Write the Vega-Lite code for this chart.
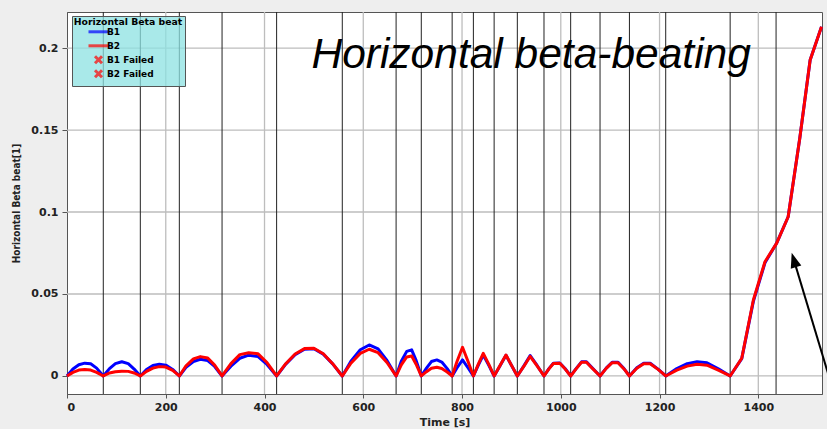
{
  "$schema": "https://vega.github.io/schema/vega-lite/v6.json",
  "width": 755,
  "height": 382,
  "autosize": {"type": "none"},
  "padding": {"left": 67, "top": 12, "right": 5, "bottom": 35},
  "background": "#eeeeee",
  "config": {
    "view": {"fill": "white", "stroke": "#555555", "strokeWidth": 1},
    "font": "DejaVu Sans",
    "axis": {
      "grid": false,
      "domainColor": "#555555",
      "tickColor": "#555555",
      "labelFont": "DejaVu Sans",
      "labelFontWeight": "bold",
      "labelFontSize": 11,
      "labelColor": "#222222",
      "titleFont": "DejaVu Sans",
      "titleFontWeight": "bold",
      "titleFontSize": 11,
      "titleColor": "#222222"
    }
  },
  "datasets": {
    "beat": [
      {"t": 0, "B1": 0, "B2": 0},
      {"t": 12, "B1": 0.0042, "B2": 0.0022},
      {"t": 24, "B1": 0.0068, "B2": 0.0036},
      {"t": 36, "B1": 0.0078, "B2": 0.0040},
      {"t": 48, "B1": 0.0074, "B2": 0.0036},
      {"t": 60, "B1": 0.0048, "B2": 0.0022},
      {"t": 73.5, "B1": 0, "B2": 0},
      {"t": 86, "B1": 0.0045, "B2": 0.0018},
      {"t": 98, "B1": 0.0075, "B2": 0.0026},
      {"t": 111, "B1": 0.0087, "B2": 0.0029},
      {"t": 124, "B1": 0.0075, "B2": 0.0028},
      {"t": 136, "B1": 0.0042, "B2": 0.0018},
      {"t": 148.5, "B1": 0, "B2": 0},
      {"t": 161, "B1": 0.0040, "B2": 0.0028},
      {"t": 174, "B1": 0.0064, "B2": 0.0048},
      {"t": 187, "B1": 0.0071, "B2": 0.0057},
      {"t": 200, "B1": 0.0066, "B2": 0.0054},
      {"t": 214, "B1": 0.0040, "B2": 0.0034},
      {"t": 227.5, "B1": 0, "B2": 0},
      {"t": 241, "B1": 0.0052, "B2": 0.0062},
      {"t": 256, "B1": 0.0088, "B2": 0.0104},
      {"t": 270, "B1": 0.0102, "B2": 0.0118},
      {"t": 285, "B1": 0.0094, "B2": 0.0110},
      {"t": 299, "B1": 0.0058, "B2": 0.0066},
      {"t": 314, "B1": 0, "B2": 0},
      {"t": 332, "B1": 0.0060, "B2": 0.0075},
      {"t": 350, "B1": 0.0108, "B2": 0.0130},
      {"t": 368, "B1": 0.0127, "B2": 0.0142},
      {"t": 387, "B1": 0.0118, "B2": 0.0135},
      {"t": 405, "B1": 0.0070, "B2": 0.0082},
      {"t": 424.5, "B1": 0, "B2": 0},
      {"t": 443, "B1": 0.0072, "B2": 0.0075},
      {"t": 462, "B1": 0.0130, "B2": 0.0134},
      {"t": 481, "B1": 0.0163, "B2": 0.0167},
      {"t": 500, "B1": 0.0166, "B2": 0.0169},
      {"t": 519, "B1": 0.0133, "B2": 0.0135},
      {"t": 538, "B1": 0.0074, "B2": 0.0075},
      {"t": 557.5, "B1": 0, "B2": 0},
      {"t": 575, "B1": 0.0090, "B2": 0.0078},
      {"t": 594, "B1": 0.0160, "B2": 0.0138},
      {"t": 612, "B1": 0.0189, "B2": 0.0163},
      {"t": 630, "B1": 0.0165, "B2": 0.0142},
      {"t": 648, "B1": 0.0095, "B2": 0.0082},
      {"t": 666.5, "B1": 0, "B2": 0},
      {"t": 677, "B1": 0.0090, "B2": 0.0068},
      {"t": 688, "B1": 0.0150, "B2": 0.0116},
      {"t": 698, "B1": 0.0159, "B2": 0.0122},
      {"t": 707, "B1": 0.0095, "B2": 0.0072},
      {"t": 717.5, "B1": 0, "B2": 0},
      {"t": 728, "B1": 0.0048, "B2": 0.0026},
      {"t": 738, "B1": 0.0088, "B2": 0.0047},
      {"t": 749, "B1": 0.0098, "B2": 0.0053},
      {"t": 759, "B1": 0.0085, "B2": 0.0046},
      {"t": 770, "B1": 0.0045, "B2": 0.0024},
      {"t": 780, "B1": 0, "B2": 0},
      {"t": 790, "B1": 0.0050, "B2": 0.0090},
      {"t": 801, "B1": 0.0098, "B2": 0.0175},
      {"t": 812, "B1": 0.0050, "B2": 0.0090},
      {"t": 823, "B1": 0, "B2": 0},
      {"t": 833, "B1": 0.0066, "B2": 0.0072},
      {"t": 843, "B1": 0.0128, "B2": 0.0138},
      {"t": 854, "B1": 0.0066, "B2": 0.0072},
      {"t": 865, "B1": 0, "B2": 0},
      {"t": 877, "B1": 0.0062, "B2": 0.0064},
      {"t": 889, "B1": 0.0126, "B2": 0.0128},
      {"t": 900, "B1": 0.0065, "B2": 0.0066},
      {"t": 912, "B1": 0, "B2": 0},
      {"t": 925, "B1": 0.0060, "B2": 0.0058},
      {"t": 938, "B1": 0.0124, "B2": 0.0120},
      {"t": 952, "B1": 0.0064, "B2": 0.0062},
      {"t": 966, "B1": 0, "B2": 0},
      {"t": 976, "B1": 0.0045, "B2": 0.0043},
      {"t": 985, "B1": 0.0078, "B2": 0.0076},
      {"t": 998, "B1": 0.0079, "B2": 0.0077},
      {"t": 1009, "B1": 0.0044, "B2": 0.0042},
      {"t": 1020, "B1": 0, "B2": 0},
      {"t": 1031, "B1": 0.0045, "B2": 0.0043},
      {"t": 1042, "B1": 0.0086, "B2": 0.0084},
      {"t": 1052, "B1": 0.0086, "B2": 0.0084},
      {"t": 1065, "B1": 0.0045, "B2": 0.0043},
      {"t": 1079.5, "B1": 0, "B2": 0},
      {"t": 1092, "B1": 0.0048, "B2": 0.0046},
      {"t": 1104, "B1": 0.0083, "B2": 0.0081},
      {"t": 1116, "B1": 0.0083, "B2": 0.0081},
      {"t": 1128, "B1": 0.0045, "B2": 0.0043},
      {"t": 1139, "B1": 0, "B2": 0},
      {"t": 1154, "B1": 0.0050, "B2": 0.0047},
      {"t": 1168, "B1": 0.0078, "B2": 0.0075},
      {"t": 1181, "B1": 0.0078, "B2": 0.0075},
      {"t": 1197, "B1": 0.0042, "B2": 0.0040},
      {"t": 1212.5, "B1": 0, "B2": 0},
      {"t": 1235, "B1": 0.0045, "B2": 0.0036},
      {"t": 1256, "B1": 0.0075, "B2": 0.0060},
      {"t": 1276, "B1": 0.0087, "B2": 0.0071},
      {"t": 1296, "B1": 0.0080, "B2": 0.0066},
      {"t": 1320, "B1": 0.0042, "B2": 0.0034},
      {"t": 1343, "B1": 0, "B2": 0},
      {"t": 1366.5, "B1": 0.0106, "B2": 0.0108},
      {"t": 1390, "B1": 0.0455, "B2": 0.0463},
      {"t": 1413.5, "B1": 0.0690, "B2": 0.0697},
      {"t": 1437, "B1": 0.0809, "B2": 0.0809},
      {"t": 1460.5, "B1": 0.0971, "B2": 0.0971},
      {"t": 1484, "B1": 0.1450, "B2": 0.1450},
      {"t": 1505, "B1": 0.1927, "B2": 0.1927},
      {"t": 1528, "B1": 0.2130, "B2": 0.2130}
    ],
    "events": [
      {"t": 73.5}, {"t": 148.5}, {"t": 227.5}, {"t": 314}, {"t": 424.5},
      {"t": 557.5}, {"t": 666.5}, {"t": 717.5}, {"t": 780}, {"t": 823},
      {"t": 865}, {"t": 912}, {"t": 966}, {"t": 1020}, {"t": 1079.5},
      {"t": 1139}, {"t": 1212.5}, {"t": 1343}, {"t": 1436}
    ],
    "xgrid": [
      {"t": 200}, {"t": 400}, {"t": 600}, {"t": 800}, {"t": 1000}, {"t": 1200}, {"t": 1400}
    ],
    "ygrid": [
      {"beat": 0}, {"beat": 0.05}, {"beat": 0.1}, {"beat": 0.15}, {"beat": 0.2}
    ],
    "series": [
      {"series": "B1"}, {"series": "B2"}, {"series": "B1 Failed"}, {"series": "B2 Failed"}
    ]
  },
  "layer": [
    {
      "data": {"name": "xgrid"},
      "mark": {"type": "rule", "color": "#bdbdbd", "strokeWidth": 1.3},
      "encoding": {
        "x": {"field": "t", "type": "quantitative", "title": "Time [s]"}
      }
    },
    {
      "data": {"name": "ygrid"},
      "mark": {"type": "rule", "color": "#bdbdbd", "strokeWidth": 1.3},
      "encoding": {
        "y": {"field": "beat", "type": "quantitative", "title": "Horizontal Beta beat[1]"}
      }
    },
    {
      "data": {"name": "events"},
      "mark": {"type": "rule", "color": "#222222", "strokeWidth": 1},
      "encoding": {
        "x": {"field": "t", "type": "quantitative", "title": "Time [s]"}
      }
    },
    {
      "data": {"name": "beat"},
      "transform": [{"fold": ["B1", "B2"], "as": ["series", "beat"]}],
      "mark": {"type": "line", "strokeWidth": 3, "strokeJoin": "round"},
      "encoding": {
        "x": {
          "field": "t",
          "type": "quantitative",
          "title": "Time [s]",
          "scale": {"domain": [0, 1529], "nice": false, "zero": false},
          "axis": {
            "values": [0, 200, 400, 600, 800, 1000, 1200, 1400],
            "format": "d",
            "tickSize": 4,
            "labelPadding": 3,
            "titlePadding": 4
          }
        },
        "y": {
          "field": "beat",
          "type": "quantitative",
          "title": "Horizontal Beta beat[1]",
          "scale": {"domain": [-0.011, 0.222], "nice": false, "zero": false},
          "axis": {
            "values": [0, 0.05, 0.1, 0.15, 0.2],
            "format": "~g",
            "tickSize": 5,
            "labelPadding": 4,
            "titlePadding": 9,
            "titleFont": "DejaVu Sans Condensed",
            "titleFontSize": 10
          }
        },
        "color": {
          "field": "series",
          "type": "nominal",
          "scale": {"domain": ["B1", "B2"], "range": ["#0000ff", "#ff0000"]},
          "legend": null
        }
      }
    },
    {
      "data": {"name": "series"},
      "mark": {"type": "point", "filled": false, "strokeWidth": 3},
      "encoding": {
        "x": {"field": "t", "type": "quantitative", "title": "Time [s]"},
        "y": {"field": "beat", "type": "quantitative", "title": "Horizontal Beta beat[1]"},
        "shape": {
          "field": "series",
          "type": "nominal",
          "scale": {
            "domain": ["B1", "B2", "B1 Failed", "B2 Failed"],
            "range": ["M-5,0L5,0", "M-5,0L5,0", "M-1.75,-1.75L1.75,1.75M1.75,-1.75L-1.75,1.75", "M-1.75,-1.75L1.75,1.75M1.75,-1.75L-1.75,1.75"]
          },
          "legend": {
            "title": "Horizontal Beta beat",
            "orient": "none",
            "legendX": 5,
            "legendY": 4,
            "direction": "vertical",
            "padding": 2,
            "fillColor": "rgba(140,225,225,0.75)",
            "strokeColor": "#555555",
            "titleFontSize": 9.3,
            "titleFontWeight": "bold",
            "titleColor": "#000000",
            "titleAnchor": "middle",
            "titlePadding": 0,
            "labelFontSize": 9,
            "labelFontWeight": "bold",
            "labelColor": "#000000",
            "labelOffset": 4,
            "symbolOffset": -9,
            "symbolSize": 16,
            "symbolStrokeWidth": 3,
            "gridAlign": "all",
            "rowPadding": -11.6
          }
        },
        "stroke": {
          "field": "series",
          "type": "nominal",
          "scale": {
            "domain": ["B1", "B2", "B1 Failed", "B2 Failed"],
            "range": ["#0000ff", "#ff0000", "#ff0000", "#ff0000"]
          },
          "legend": {
            "title": "Horizontal Beta beat",
            "orient": "none",
            "legendX": 5,
            "legendY": 4,
            "direction": "vertical",
            "padding": 2,
            "fillColor": "rgba(140,225,225,0.75)",
            "strokeColor": "#555555",
            "titleFontSize": 9.3,
            "titleFontWeight": "bold",
            "titleColor": "#000000",
            "titleAnchor": "middle",
            "titlePadding": 0,
            "labelFontSize": 9,
            "labelFontWeight": "bold",
            "labelColor": "#000000",
            "labelOffset": 4,
            "symbolOffset": -9,
            "symbolSize": 16,
            "symbolStrokeWidth": 3,
            "gridAlign": "all",
            "rowPadding": -11.6
          }
        }
      }
    },
    {
      "data": {"values": [{}]},
      "mark": {
        "type": "text",
        "font": "Liberation Sans",
        "fontStyle": "italic",
        "fontSize": 42.5,
        "align": "center",
        "baseline": "alphabetic",
        "color": "#000000"
      },
      "encoding": {
        "x": {"datum": 940, "type": "quantitative", "title": "Time [s]"},
        "y": {"datum": 0.1878, "type": "quantitative", "title": "Horizontal Beta beat[1]"},
        "text": {"value": "Horizontal beta-beating"}
      }
    },
    {
      "data": {"values": [{}]},
      "mark": {"type": "rule", "color": "#000000", "strokeWidth": 2},
      "encoding": {
        "x": {"datum": 1545.3, "type": "quantitative", "title": "Time [s]"},
        "y": {"datum": -0.0025, "type": "quantitative", "title": "Horizontal Beta beat[1]"},
        "x2": {"datum": 1473.5},
        "y2": {"datum": 0.0693}
      }
    },
    {
      "data": {"values": [{}]},
      "mark": {
        "type": "point",
        "shape": "M0,-1L0.55,0.5L-0.55,0.5Z",
        "filled": true,
        "color": "#000000",
        "size": 400,
        "angle": 343.2,
        "opacity": 1
      },
      "encoding": {
        "x": {"datum": 1473.5, "type": "quantitative", "title": "Time [s]"},
        "y": {"datum": 0.0693, "type": "quantitative", "title": "Horizontal Beta beat[1]"}
      }
    }
  ]
}
